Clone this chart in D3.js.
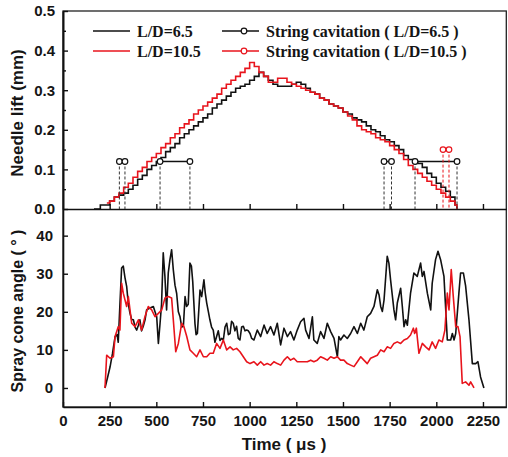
<!DOCTYPE html>
<html>
<head>
<meta charset="UTF-8">
<script src="https://d3js.org/d3.v7.min.js"></script>
<style>
  body { margin: 0; background: #fff; }
  svg { display: block; }
  .tick text { font-family: "Liberation Sans", Arial, sans-serif; font-weight: bold; font-size: 15px; fill: #151515; }
  .axis path, .axis line { stroke: #111; }
</style>
</head>
<body>
<div class="chart"></div>
<script>
// needle lift (mm) vs time (us), staircase traces
const lift65 = [[166,0],[200,0.01],[225,0.01],[250,0.02],[275,0.03],[300,0.035],[325,0.04],[350,0.05],[375,0.06],[400,0.075],
  [425,0.085],[450,0.1],[475,0.11],[500,0.12],[525,0.13],[550,0.145],[575,0.155],[600,0.165],[625,0.18],[650,0.19],
  [675,0.2],[700,0.21],[725,0.22],[750,0.23],[775,0.24],[800,0.255],[825,0.265],[850,0.275],[875,0.285],[900,0.295],
  [925,0.305],[950,0.31],[975,0.315],[1000,0.325],[1025,0.335],[1050,0.345],[1075,0.335],[1100,0.325],[1125,0.315],
  [1150,0.31],[1175,0.31],[1200,0.31],[1225,0.315],[1250,0.32],[1275,0.315],[1300,0.305],[1325,0.295],[1350,0.29],
  [1375,0.28],[1400,0.275],[1425,0.265],[1450,0.26],[1475,0.255],[1500,0.245],[1525,0.24],[1550,0.23],[1575,0.225],
  [1600,0.22],[1625,0.21],[1650,0.2],[1675,0.195],[1700,0.185],[1725,0.175],[1750,0.17],[1775,0.16],[1800,0.15],
  [1825,0.135],[1850,0.125],[1875,0.12],[1900,0.115],[1925,0.105],[1950,0.09],[1975,0.08],[2000,0.065],[2025,0.055],
  [2050,0.045],[2075,0.03],[2100,0.01],[2110,0]];
const lift105 = [[235,0.015],[250,0.02],[275,0.03],[300,0.04],[325,0.055],[350,0.065],[375,0.08],[400,0.095],[425,0.105],
  [450,0.12],[475,0.13],[500,0.14],[525,0.155],[550,0.165],[575,0.18],[600,0.19],[625,0.205],[650,0.215],[675,0.225],
  [700,0.24],[725,0.25],[750,0.26],[775,0.27],[800,0.28],[825,0.29],[850,0.305],[875,0.315],[900,0.325],[925,0.335],
  [950,0.345],[975,0.355],[1000,0.37],[1025,0.36],[1050,0.345],[1075,0.335],[1100,0.32],[1125,0.32],[1150,0.33],
  [1175,0.33],[1200,0.32],[1225,0.315],[1250,0.31],[1275,0.305],[1300,0.3],[1325,0.295],[1350,0.29],[1375,0.28],
  [1400,0.275],[1425,0.265],[1450,0.26],[1475,0.255],[1500,0.245],[1525,0.235],[1550,0.225],[1575,0.21],[1600,0.2],
  [1625,0.195],[1650,0.19],[1675,0.18],[1700,0.175],[1725,0.17],[1750,0.16],[1775,0.15],[1800,0.14],[1825,0.125],
  [1850,0.11],[1875,0.1],[1900,0.09],[1925,0.08],[1950,0.07],[1975,0.06],[2000,0.05],[2025,0.04],[2050,0.03],
  [2075,0.02],[2100,0.01],[2110,0]];

// string cavitation intervals [start, end, level]
const cav65 = [[302,332,0.12],[520,680,0.12],[1720,1760,0.12],[1886,2111,0.12]];
const cav105 = [[2036,2068,0.15]];

// spray cone angle (deg) vs time (us)
const cone65 = [[225,0],[240,3],[252,5.5],[265,9],[279,13.5],[290,14],[296,12],[305,22],[314,31.5],[323,32],[332,29],
  [341,26.7],[350,22],[359,19.6],[368,18],[377,17.9],[386,16],[395,15.2],[404,16.5],[412,17.9],[421,15],[430,16.2],
  [440,18],[448,20.5],[466,21],[484,21.4],[493,20],[502,18.7],[511,11.7],[520,17],[528,22],[537,35.5],[546,29.3],
  [555,20.5],[564,30.2],[573,33.7],[582,36.3],[591,31],[600,27],[609,24.8],[618,20],[627,18.7],[636,16],[645,16.2],
  [654,24],[662,21.4],[671,22],[680,32.8],[688,32],[695,28],[707,16.9],[713,14],[720,14.3],[734,25.7],[743,24],
  [755,28.4],[762,25],[770,22.3],[779,20],[787,17.9],[796,16],[805,15.2],[814,12],[823,13.5],[832,15],[841,12.5],
  [850,13],[859,12.6],[868,16],[877,17],[886,14],[895,14.3],[903,17.5],[912,17],[921,15],[930,16.2],[939,13],
  [948,12.6],[957,16],[966,16.2],[975,15],[984,15.2],[993,15],[1002,14.3],[1011,13],[1023,12.6],[1041,15.2],
  [1059,13.5],[1077,16.5],[1094,14.3],[1112,16.1],[1130,13.9],[1148,17],[1166,11.3],[1184,15.7],[1202,13.5],
  [1219,14.8],[1237,12.6],[1255,15.2],[1273,17.4],[1291,18.3],[1300,15.2],[1318,13],[1336,18.7],[1344,12.6],
  [1362,11.7],[1380,14.8],[1398,13],[1416,17],[1434,14.8],[1452,13],[1470,8.2],[1478,13.5],[1487,12.6],[1505,13.9],
  [1523,13],[1541,14.3],[1559,16.1],[1577,14.3],[1595,17],[1612,15.2],[1630,18.7],[1648,19.6],[1666,21.4],
  [1684,25.8],[1693,24.5],[1702,21.4],[1711,20.1],[1720,23.1],[1737,34.6],[1746,32.8],[1755,28.4],[1773,20.5],
  [1782,17.9],[1791,22.3],[1809,26.2],[1818,21.4],[1827,16.1],[1836,17.9],[1845,16.5],[1853,20.5],[1862,24.9],
  [1880,30.2],[1898,29.3],[1916,32.8],[1925,29.3],[1934,30.6],[1952,24.9],[1970,20.5],[1978,27.5],[1996,33.7],
  [2009,35.9],[2023,33.7],[2041,29.3],[2059,12.6],[2077,12.6],[2086,14.3],[2095,12.6],[2104,14.3],[2121,24.9],
  [2130,30.2],[2145,30.2],[2157,26.8],[2175,17.9],[2193,6.4],[2211,6.4],[2223,6.9],[2237,2.9],[2255,0]];
const cone105 = [[225,0],[234,8.6],[252,7.8],[270,8.2],[279,13.5],[296,16.1],[305,15.2],[314,27.5],[323,24.9],[341,21.4],
  [350,24],[368,17],[386,16.1],[404,17.9],[421,15.2],[439,18.7],[457,21.4],[475,20.5],[493,18.7],[511,19.6],
  [529,20.5],[546,23.6],[564,24],[582,23.6],[591,17.9],[604,9.5],[618,11.7],[636,17],[648,16.1],[663,13.5],
  [680,10],[698,9.1],[716,8.2],[734,10],[752,8.2],[770,8.2],[787,9.1],[805,9.1],[823,11.7],[841,10.4],[859,12.6],
  [877,10],[895,10.8],[912,10],[930,10.4],[948,9.5],[966,8.2],[984,6.9],[1002,6.4],[1023,6.9],[1041,6],[1059,6.9],
  [1077,6],[1094,6.4],[1112,6],[1130,6.9],[1148,6.4],[1166,6],[1184,7.3],[1202,8.2],[1219,7.3],[1237,7.8],
  [1255,6.9],[1273,6.9],[1291,6.9],[1309,6.9],[1327,7.3],[1344,6.9],[1362,7.3],[1380,8.2],[1398,7.8],[1416,7.3],
  [1434,8.2],[1452,7.8],[1470,8.2],[1487,7.3],[1505,7.3],[1523,6.4],[1541,6],[1559,5.6],[1577,6.9],[1595,8.2],
  [1612,7.3],[1630,6.4],[1648,7.8],[1666,8.2],[1684,8.6],[1702,10],[1720,9.5],[1737,10.8],[1755,10.4],[1773,11.7],
  [1791,12.1],[1809,11.7],[1827,12.6],[1845,13],[1862,13.9],[1877,15.7],[1884,14.3],[1893,15.7],[1907,9.1],
  [1925,11.7],[1943,10.8],[1961,10],[1978,12.1],[1996,10.4],[2014,12.6],[2032,12.1],[2046,15.2],[2059,24.9],
  [2068,20.5],[2080,31.1],[2091,24],[2104,16.1],[2116,16.1],[2127,13.5],[2139,1.2],[2157,1.6],[2175,0.7],
  [2184,1.6],[2202,0]];

const xTicks = [0,250,500,750,1000,1250,1500,1750,2000,2250];
const liftTicks = [0,0.1,0.2,0.3,0.4,0.5];
const liftMinor = [0.05,0.15,0.25,0.35,0.45];
const coneTicks = [0,10,20,30,40];

const W = 508, H = 457;
const black = '#111', red = '#e8141c';
const svg = d3.select('.chart').append('svg').attr('width', W).attr('height', H);

const x = d3.scaleLinear().domain([0, 2375]).range([63, 506.3]);
const yLift = d3.scaleLinear().domain([0, 0.5]).range([209, 11]);
const yCone = d3.scaleLinear().domain([-5, 47]).range([407, 209]);

// frame
svg.append('rect').attr('x', 63).attr('y', 11).attr('width', x(2375) - 63).attr('height', 396)
  .attr('fill', 'none').attr('stroke', '#222').attr('stroke-width', 1.3);

// axes
svg.append('g').attr('class', 'axis').attr('transform', 'translate(63,0)')
  .call(d3.axisLeft(yLift).tickValues(liftTicks).tickFormat(d3.format('.1f')).tickSize(-5).tickSizeOuter(0).tickPadding(8));
svg.append('g').attr('class', 'axis').attr('transform', 'translate(63,0)')
  .call(d3.axisLeft(yLift).tickValues(liftMinor).tickFormat('').tickSize(-3).tickSizeOuter(0));
svg.append('g').attr('class', 'axis').attr('transform', 'translate(0,209)')
  .call(d3.axisBottom(x).tickValues(xTicks.slice(1)).tickFormat('').tickSize(-5).tickSizeOuter(0));
svg.append('g').attr('class', 'axis').attr('transform', 'translate(63,0)')
  .call(d3.axisLeft(yCone).tickValues(coneTicks).tickFormat(d3.format('d')).tickSize(-5).tickSizeOuter(0).tickPadding(10));
svg.append('g').attr('class', 'axis').attr('transform', 'translate(0,407)')
  .call(d3.axisBottom(x).tickValues(xTicks).tickFormat(d3.format('d')).tickSize(-5).tickSizeOuter(0).tickPadding(8));
svg.selectAll('.axis path.domain').attr('stroke-width', 1.6);
svg.selectAll('.axis .tick line').attr('stroke-width', 1.4);

// needle lift
const liftLine = d3.line().x(d => x(d[0])).y(d => yLift(d[1])).curve(d3.curveStepAfter);
svg.append('path').datum(lift65).attr('d', liftLine).attr('fill', 'none').attr('stroke', black).attr('stroke-width', 1.6);
svg.append('path').datum(lift105).attr('d', liftLine).attr('fill', 'none').attr('stroke', red).attr('stroke-width', 1.6);

function drawCav(list, col, dashCol) {
  list.forEach(c => {
    [c[0], c[1]].forEach(t => {
      svg.append('line').attr('x1', x(t)).attr('x2', x(t)).attr('y1', yLift(c[2])).attr('y2', yLift(0))
        .attr('stroke', dashCol).attr('stroke-width', 1).attr('stroke-dasharray', '3,2');
    });
    svg.append('line').attr('x1', x(c[0])).attr('x2', x(c[1])).attr('y1', yLift(c[2])).attr('y2', yLift(c[2]))
      .attr('stroke', col).attr('stroke-width', 1.5);
    [c[0], c[1]].forEach(t => {
      svg.append('circle').attr('cx', x(t)).attr('cy', yLift(c[2])).attr('r', 2.8)
        .attr('fill', '#fff').attr('stroke', col).attr('stroke-width', 1.2);
    });
  });
}
drawCav(cav65, black, '#333');
drawCav(cav105, red, red);

// spray cone angle
const coneLine = d3.line().x(d => x(d[0])).y(d => yCone(d[1]));
svg.append('path').datum(cone65).attr('d', coneLine).attr('fill', 'none').attr('stroke', black).attr('stroke-width', 1.6).attr('stroke-linejoin', 'round');
svg.append('path').datum(cone105).attr('d', coneLine).attr('fill', 'none').attr('stroke', red).attr('stroke-width', 1.6).attr('stroke-linejoin', 'round');

// legend
const legend = [
  {label: 'L/D=6.5', col: black, lx: 93, y: 31, marker: false},
  {label: 'L/D=10.5', col: red, lx: 93, y: 51, marker: false},
  {label: 'String cavitation ( L/D=6.5 )', col: black, lx: 222, y: 31, marker: true},
  {label: 'String cavitation ( L/D=10.5 )', col: red, lx: 222, y: 51, marker: true}
];
legend.forEach(l => {
  svg.append('line').attr('x1', l.lx).attr('x2', l.lx + 37).attr('y1', l.y).attr('y2', l.y)
    .attr('stroke', l.col).attr('stroke-width', 1.6);
  if (l.marker) svg.append('circle').attr('cx', l.lx + 22).attr('cy', l.y).attr('r', 2.8)
    .attr('fill', '#fff').attr('stroke', l.col).attr('stroke-width', 1.2);
  svg.append('text').attr('x', l.lx + 44).attr('y', l.y + 5.5).text(l.label)
    .attr('font-family', '"Liberation Serif", "Times New Roman", serif').attr('font-weight', 'bold')
    .attr('font-size', 16).attr('fill', '#151515');
});

// axis titles
const titleFont = '"Liberation Sans", Arial, sans-serif';
svg.append('text').attr('transform', 'translate(23,113) rotate(-90)').attr('text-anchor', 'middle')
  .attr('font-family', titleFont).attr('font-weight', 'bold').attr('font-size', 17).attr('fill', '#151515')
  .text('Needle lift (mm)');
svg.append('text').attr('transform', 'translate(23,311) rotate(-90)').attr('text-anchor', 'middle')
  .attr('font-family', titleFont).attr('font-weight', 'bold').attr('font-size', 16).attr('fill', '#151515')
  .text('Spray cone angle ( ° )');
svg.append('text').attr('x', 284).attr('y', 450).attr('text-anchor', 'middle')
  .attr('font-family', titleFont).attr('font-weight', 'bold').attr('font-size', 17).attr('fill', '#151515')
  .text('Time ( μs )');
</script>
</body>
</html>
